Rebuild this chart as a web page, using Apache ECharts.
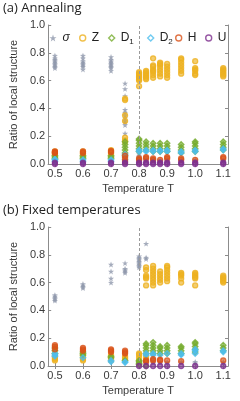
<!DOCTYPE html>
<html><head><meta charset="utf-8">
<script src="https://cdn.jsdelivr.net/npm/echarts@6/dist/echarts.min.js"></script>
<style>html,body{margin:0;padding:0;background:#fff}#c{width:240px;height:401px}</style>
</head><body><div id="c"></div>
<script>
// Temperatures (x categories, numeric)
const temps = [0.5, 0.6, 0.7, 0.75, 0.8, 0.825, 0.85, 0.875, 0.9, 0.95, 1.0, 1.1];
const xTicks = [0.5, 0.6, 0.7, 0.8, 0.9, 1.0, 1.1];

// (a) Annealing: values per temperature
const sigmaA = [[0.69,0.70,0.71,0.72,0.73,0.74,0.75,0.76,0.78],[0.68,0.70,0.71,0.72,0.73,0.74,0.76,0.78],[0.67,0.69,0.70,0.71,0.72,0.73,0.74,0.75,0.77],[0.22,0.28,0.30,0.31,0.33,0.35,0.37,0.39,0.49,0.54,0.58],[0.01,0.02,0.03,0.04,0.05,0.06,0.07],[0.02,0.03,0.04],[0.02,0.03,0.04],[0.01,0.02,0.03],[0.02,0.03,0.04],[0.02,0.03],[0.02,0.03],[0.02,0.03]];
const zA = [[0.06,0.07,0.08,0.09],[0.06,0.07,0.08,0.09],[0.06,0.07,0.08,0.09,0.10],[0.16,0.17,0.19,0.31,0.35,0.46,0.47],[0.56,0.60,0.61,0.62,0.63,0.64,0.65,0.66],[0.61,0.62,0.63,0.64,0.65,0.66,0.67],[0.62,0.64,0.66,0.67,0.68,0.70,0.71,0.76],[0.63,0.65,0.67,0.69,0.71,0.72,0.73],[0.62,0.64,0.66,0.68,0.70,0.72],[0.65,0.67,0.69,0.71,0.73,0.75,0.76],[0.64,0.65,0.67,0.68,0.69,0.74],[0.63,0.64,0.65,0.66,0.67,0.68,0.69]];
const d1A = [[0.04,0.05,0.06],[0.04,0.05,0.06],[0.04,0.05,0.06],[0.06,0.08,0.10,0.12,0.14,0.16],[0.09,0.11,0.13,0.15,0.17,0.18],[0.10,0.12,0.14,0.16],[0.09,0.11,0.13,0.15],[0.09,0.11,0.13,0.15],[0.09,0.11,0.13,0.15],[0.08,0.10,0.12,0.14],[0.09,0.11,0.13,0.15,0.16],[0.10,0.12,0.14,0.16]];
const d2A = [[0.02,0.03,0.035],[0.02,0.03],[0.02,0.03],[0.03,0.05,0.07],[0.09,0.10],[0.09,0.10],[0.09,0.10],[0.09,0.10],[0.09,0.10],[0.08,0.09],[0.09,0.10],[0.10,0.11]];
const hA = [[0.08,0.085,0.09],[0.08,0.09],[0.085,0.095],[0.02,0.04,0.06],[0.03,0.04],[0.04,0.05],[0.03,0.04],[0.03],[0.04,0.05],[0.03,0.04],[0.03],[0.04,0.05]];
const uA = [[0.0,0.01],[0.0,0.01],[0.0,0.01],[0.0,0.01],[0.0,0.01],[0.0,0.01],[0.0,0.01],[0.0,0.01],[0.0,0.01],[0.0,0.01],[0.0,0.01],[0.0,0.01]];

// (b) Fixed temperatures
const sigmaB = [[0.47,0.48,0.49,0.50,0.51],[0.56,0.57,0.58,0.59],[0.60,0.63,0.68,0.73],[0.67,0.68,0.69,0.70,0.74],[0.71,0.72,0.73,0.74,0.75,0.76,0.77,0.78,0.79],[0.02,0.03,0.77,0.78,0.88],[0.02,0.03,0.04],[0.02,0.03],[0.02,0.03],[0.02,0.03],[0.02,0.03],[0.02,0.03]];
const zB = [[0.04,0.05,0.06,0.07],[0.04,0.05,0.06,0.07,0.08],[0.04,0.05,0.06,0.07,0.08],[0.05,0.06,0.07],[0.02,0.04,0.06,0.08,0.09],[0.05,0.07,0.58,0.63,0.64,0.65,0.69,0.71],[0.58,0.60,0.62,0.64,0.66,0.68,0.70,0.72],[0.60,0.62,0.64,0.66,0.68],[0.61,0.63,0.65,0.67,0.69,0.71,0.72],[0.60,0.63,0.65,0.66,0.67],[0.58,0.63,0.64,0.65,0.66,0.67],[0.60,0.61,0.62,0.63,0.64,0.65]];
const d1B = [[0.09,0.11,0.13],[0.08,0.09,0.10],[0.06,0.07],[0.04],[0.01,0.02,0.03,0.04],[0.0,0.09,0.11,0.13,0.15,0.16],[0.09,0.11,0.13,0.15,0.17],[0.09,0.11,0.13,0.14],[0.09,0.11,0.13,0.15],[0.09,0.11,0.13,0.14],[0.10,0.12,0.14,0.16,0.17],[0.11,0.13,0.15]];
const d2B = [[0.07,0.08,0.09],[0.06],[0.03,0.04],[0.025,0.03],[],[0.08,0.09],[0.08,0.09],[0.08],[0.09],[0.08,0.09],[0.09,0.11,0.12],[0.10,0.11]];
const hB = [[0.12,0.14,0.15],[0.11,0.12,0.13],[0.10,0.11,0.12],[0.09,0.10,0.11],[],[0.03,0.04],[0.04,0.05],[0.04,0.045],[0.04],[0.035],[],[0.04]];
const uB = [[],[],[],[],[0.0],[0.0],[0.0],[0.0],[0.0],[0.0],[0.0],[0.0]];

const names = ['σ','Z','D1','D2','H','U'];
const colors = ['#8f97ab','#EDB120','#77AC30','#4DBEEE','#D95319','#7E2F8E'];
const fills = ['#8f97ab','rgba(237,177,32,0.8)','rgba(119,172,48,0.8)','rgba(77,190,238,0.8)','rgba(217,83,25,0.8)','rgba(126,47,142,0.8)'];
const STAR = 'path://M12,0 L14.9,8.3 L23.4,8.5 L16.6,13.8 L19.1,22.2 L12,17.2 L4.9,22.2 L7.4,13.8 L0.6,8.5 L9.1,8.3 Z';
const symbols = [STAR,'circle','diamond','diamond','circle','circle'];

function toPts(arr){const out=[];arr.forEach((vals,i)=>vals.forEach(v=>out.push([temps[i],v])));return out;}

const panels = [[sigmaA,zA,d1A,d2A,hA,uA],[sigmaB,zB,d1B,d2B,hB,uB]];
const gridTops = [25, 227];
const axisColor = '#8c8c8c';
const FF = '"Liberation Sans", Arial, sans-serif';
const labelFont = {fontFamily:FF, fontSize:11, color:'#3a3a3a'};

const grids=[], xAxes=[], yAxes=[], series=[];
gridTops.forEach((top,p)=>{
  grids.push({left:38, top:top, width:190, height:139});
  xAxes.push({type:'value', gridIndex:p, min:0.476, max:1.117, position:'bottom',
    name:'Temperature T', nameLocation:'middle', nameGap:19, nameTextStyle:{...labelFont},
    axisLine:{lineStyle:{color:axisColor}}, splitLine:{show:false},
    axisTick:{inside:true, length:3, customValues:xTicks, lineStyle:{color:axisColor}},
    axisLabel:{customValues:xTicks, margin:4, formatter:v=>Number(v).toFixed(1), ...labelFont}});
  xAxes.push({type:'value', gridIndex:p, min:0.476, max:1.117, position:'top',
    axisLine:{lineStyle:{color:axisColor}}, splitLine:{show:false},
    axisTick:{inside:true, length:3, customValues:xTicks, lineStyle:{color:axisColor}},
    axisLabel:{show:false}});
  yAxes.push({type:'value', gridIndex:p, min:0, max:1, interval:0.2, position:'left',
    name:'Ratio of local structure', nameLocation:'middle', nameGap:20, nameTextStyle:{...labelFont},
    axisLine:{show:true, lineStyle:{color:axisColor}}, splitLine:{show:false},
    axisTick:{show:true, inside:true, length:3, lineStyle:{color:axisColor}},
    axisLabel:{margin:3, formatter:v=>Number(v).toFixed(1), ...labelFont}});
  yAxes.push({type:'value', gridIndex:p, min:0, max:1, interval:0.2, position:'right',
    axisLine:{show:true, lineStyle:{color:axisColor}}, splitLine:{show:false},
    axisTick:{show:true, inside:true, length:3, lineStyle:{color:axisColor}},
    axisLabel:{show:false}});
  panels[p].forEach((arr,k)=>{
    const s = {type:'scatter', name:names[k], xAxisIndex:2*p, yAxisIndex:2*p,
      data:toPts(arr), symbol:symbols[k], symbolKeepAspect:true, silent:true,
      z: 2+k};
    if(k===0){
      s.symbolSize=6;
      s.itemStyle={color:colors[0]};
      s.markLine={silent:true, symbol:['none','none'], label:{show:false}, animation:false,
        lineStyle:{type:[3,2], color:'#9a9a9a', width:1}, data:[{xAxis:0.8}]};
    } else {
      s.symbolSize = (k===2||k===3)?5.5:5;
      s.itemStyle={color:fills[k], borderColor:colors[k], borderWidth:1.3};
    }
    series.push(s);
  });
});

const legendLefts = [49.5, 79, 108, 147, 175, 205];
const legends = names.map((n,k)=>({
  data:[{name:n, icon:symbols[k]}], left:legendLefts[k], top:32, padding:0,
  itemWidth:(k===0?7:6), itemHeight:(k===0?7:6), itemGap:0,
  itemStyle: k===0 ? {color:colors[0], borderWidth:0} : {color:'rgba(255,255,255,0)', borderColor:colors[k], borderWidth:1.4},
  formatter: nm => nm==='D1' ? 'D{s|1}' : (nm==='D2' ? 'D{s|2}' : nm),
  textStyle:{fontFamily:FF, fontSize:12, color:'#222',
    fontStyle: k===0?'italic':'normal', padding:[0,0,0,1],
    rich:{s:{fontSize:8, fontFamily:FF, color:'#222', padding:[7,0,0,0]}}},
  selectedMode:false
}));

const chart = echarts.init(document.getElementById('c'), null, {renderer:'canvas'});
chart.setOption({
  animation:false,
  title:[
    {text:'(a) Annealing', left:3, top:2, padding:0, textStyle:{fontFamily:'"Open Sans", sans-serif', fontSize:13, fontWeight:'normal', color:'#222'}},
    {text:'(b) Fixed temperatures', left:3, top:204, padding:0, textStyle:{fontFamily:'"Open Sans", sans-serif', fontSize:13, fontWeight:'normal', color:'#222'}}
  ],
  legend:legends,
  grid:grids, xAxis:xAxes, yAxis:yAxes, series:series
});
</script></body></html>
